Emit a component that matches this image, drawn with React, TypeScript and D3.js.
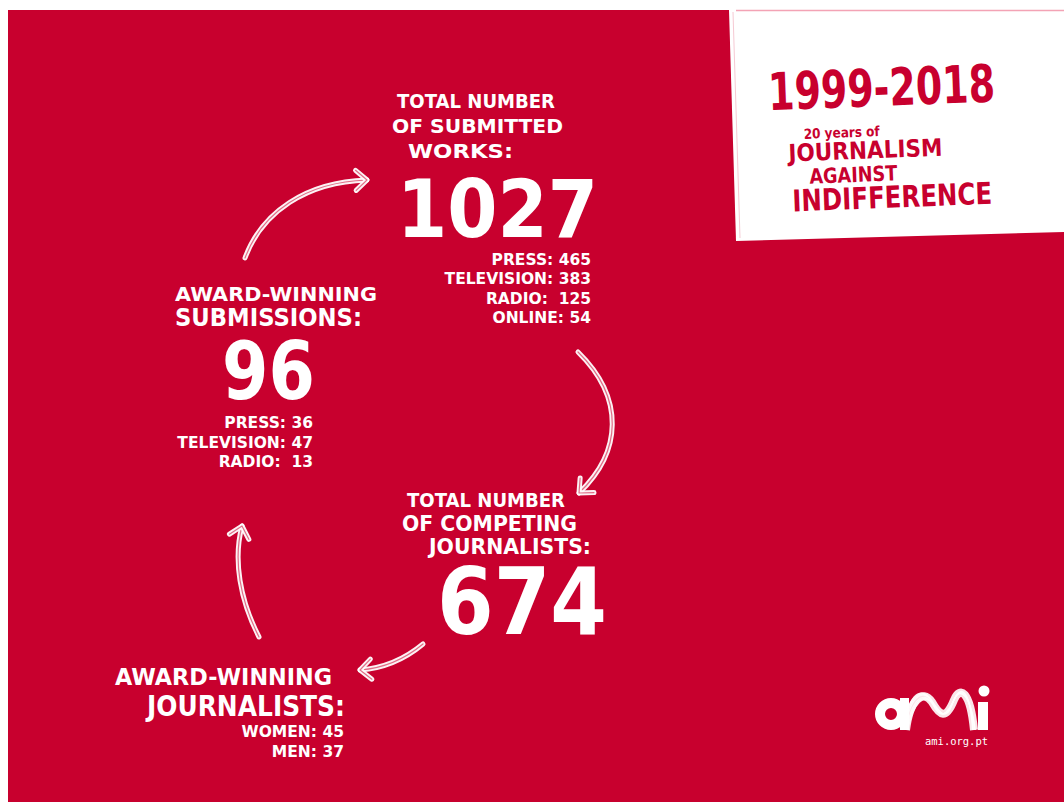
import React from "react";
import * as d3 from "d3";

// ---------- data ----------
const submittedTitle = ["TOTAL NUMBER", "OF SUBMITTED", "WORKS:"];
const submittedTotal = 1027;
const submittedBreakdown = [
  { label: "PRESS", value: "465" },
  { label: "TELEVISION", value: "383" },
  { label: "RADIO", value: " 125" },
  { label: "ONLINE", value: "54" },
];

const competingTitle = ["TOTAL NUMBER", "OF COMPETING", "JOURNALISTS:"];
const competingTotal = 674;

const winningJournalistsTitle = ["AWARD-WINNING", "JOURNALISTS:"];
const winningJournalists = [
  { label: "WOMEN", value: "45" },
  { label: "MEN", value: "37" },
];

const winningSubmissionsTitle = ["AWARD-WINNING", "SUBMISSIONS:"];
const winningSubmissionsTotal = 96;
const winningSubmissions = [
  { label: "PRESS", value: "36" },
  { label: "TELEVISION", value: "47" },
  { label: "RADIO", value: " 13" },
];

const headerYears = "1999-2018";
const headerLines = ["20 years of", "JOURNALISM", "AGAINST", "INDIFFERENCE"];
const siteLabel = "ami.org.pt";

// ---------- styling ----------
const RED = "#c8002e";
const FONT = "'DejaVu Sans', sans-serif";

type P = [number, number];

function arrowPath(pts: P[]) {
  const p = d3.path();
  p.moveTo(pts[0][0], pts[0][1]);
  p.bezierCurveTo(pts[1][0], pts[1][1], pts[2][0], pts[2][1], pts[3][0], pts[3][1]);
  return p.toString();
}

function headPath(pts: P[], len = 15, ang = 42) {
  const [cx, cy] = pts[2];
  const [ex, ey] = pts[3];
  const bx = cx - ex, by = cy - ey;
  const n = Math.hypot(bx, by);
  const ux = bx / n, uy = by / n;
  const a = (ang * Math.PI) / 180;
  const r = (s: number): P => [
    ex + len * (ux * Math.cos(s * a) - uy * Math.sin(s * a)),
    ey + len * (ux * Math.sin(s * a) + uy * Math.cos(s * a)),
  ];
  const p1 = r(1), p2 = r(-1);
  const p = d3.path();
  p.moveTo(p1[0], p1[1]);
  p.lineTo(ex, ey);
  p.lineTo(p2[0], p2[1]);
  return p.toString();
}

const arrows: P[][] = [
  [[245, 258], [262, 212], [306, 182], [367, 180]],
  [[578, 352], [625, 398], [622, 452], [579, 493]],
  [[423, 644], [405, 659], [386, 668], [360, 670]],
  [[259, 637], [240, 600], [233, 560], [242, 526]],
];

function Arrow({ pts }: { pts: P[] }) {
  const d = arrowPath(pts);
  const h = headPath(pts);
  return (
    <g fill="none" strokeLinecap="round" strokeLinejoin="round">
      <path d={d} stroke="#fff" strokeWidth={5} opacity={0.95} />
      <path d={d} stroke={RED} strokeWidth={1.2} opacity={0.55} />
      <path d={h} stroke="#fff" strokeWidth={5} opacity={0.95} />
      <path d={h} stroke={RED} strokeWidth={1.2} opacity={0.55} />
    </g>
  );
}

function T({
  x, y, w, size, children, fill = "#fff", anchor = "start", weight = 700, family = FONT,
}: {
  x: number; y: number; w?: number; size: number; children: React.ReactNode;
  fill?: string; anchor?: string; weight?: number; family?: string;
}) {
  return (
    <text
      x={x}
      y={y}
      fontSize={size}
      fontFamily={family}
      fontWeight={weight}
      fill={fill}
      textAnchor={anchor}
      textLength={w}
      lengthAdjust={w ? "spacingAndGlyphs" : undefined}
      style={{ whiteSpace: "pre" }}
    >
      {children}
    </text>
  );
}

export default function App() {
  // m logo waves
  const mLines = d3.range(7).map((i) => {
    const o = i - 3;
    const p = d3.path();
    p.moveTo(906 + o * 0.6, 730);
    p.bezierCurveTo(910 + o, 700 + o, 922 + o, 688 + o, 932 + o * 0.5, 702 + o * 1.2);
    p.bezierCurveTo(940, 716 + o, 946, 720 - o, 954 + o * 0.5, 700 - o);
    p.bezierCurveTo(960, 686 + o, 970, 690 + o, 974 + o * 0.5, 730);
    return p.toString();
  });

  return (
    <svg
      width={1064}
      height={802}
      style={{ display: "block", position: "absolute", left: 0, top: 0 }}
    >
      <rect x={8} y={10} width={1056} height={792} fill={RED} />

      {/* header card */}
      <path d="M729,10 L1064,10 L1064,232 L736,241 Z" fill="#fff" />
      <line x1={736} y1={10.5} x2={1064} y2={10.5} stroke="#f3a3b5" strokeWidth={1.5} />
      <line x1={733} y1={12} x2={740} y2={238} stroke="#f6c9d3" strokeWidth={1} />
      <g transform="rotate(-2.2 880 140)">
        <T x={770} y={106} w={227} size={52} fill={RED} weight={800}>{headerYears}</T>
        <T x={804} y={136} w={76} size={14} fill={RED}>{headerLines[0]}</T>
        <T x={788} y={158} w={154} size={24} fill={RED}>{headerLines[1]}</T>
        <T x={808} y={181} w={88} size={21} fill={RED}>{headerLines[2]}</T>
        <T x={790} y={208} w={200} size={30} fill={RED}>{headerLines[3]}</T>
      </g>

      {/* arrows */}
      {arrows.map((a, i) => (
        <Arrow key={i} pts={a} />
      ))}

      {/* submitted works */}
      <T x={397} y={108} w={158} size={19}>{submittedTitle[0]}</T>
      <T x={392} y={133} w={171} size={20}>{submittedTitle[1]}</T>
      <T x={408} y={158} w={105} size={20}>{submittedTitle[2]}</T>
      <T x={397} y={237} w={201} size={81}>{String(submittedTotal)}</T>
      {submittedBreakdown.map((d, i) => (
        <T key={d.label} x={591} y={265 + i * 19.4} size={15.5} anchor="end">
          {`${d.label}: ${d.value}`}
        </T>
      ))}

      {/* award-winning submissions */}
      <T x={175} y={301} w={202} size={20}>{winningSubmissionsTitle[0]}</T>
      <T x={175} y={326} w={187} size={25}>{winningSubmissionsTitle[1]}</T>
      <T x={222} y={399} w={93} size={80}>{String(winningSubmissionsTotal)}</T>
      {winningSubmissions.map((d, i) => (
        <T key={d.label} x={313} y={428 + i * 19.5} size={15.5} anchor="end">
          {`${d.label}: ${d.value}`}
        </T>
      ))}

      {/* competing journalists */}
      <T x={407} y={507} w={158} size={19}>{competingTitle[0]}</T>
      <T x={402} y={531} w={175} size={21}>{competingTitle[1]}</T>
      <T x={429} y={554} w={162} size={22}>{competingTitle[2]}</T>
      <T x={437} y={634} w={170} size={93}>{String(competingTotal)}</T>

      {/* award-winning journalists */}
      <T x={115} y={685} w={217} size={23}>{winningJournalistsTitle[0]}</T>
      <T x={147} y={716} w={198} size={28}>{winningJournalistsTitle[1]}</T>
      {winningJournalists.map((d, i) => (
        <T key={d.label} x={344} y={737 + i * 20} size={15.5} anchor="end">
          {`${d.label}: ${d.value}`}
        </T>
      ))}

      {/* ami logo */}
      <g>
        <circle cx={891} cy={714} r={11} fill="none" stroke="#fff" strokeWidth={10} />
        <rect x={900} y={698} width={9} height={32} fill="#fff" />
        {mLines.map((d, i) => (
          <path key={i} d={d} fill="none" stroke="#fff" strokeWidth={i === 3 ? 8 : 1.2} opacity={i === 3 ? 0.9 : 0.8} />
        ))}
        <rect x={978} y={702} width={10} height={28} fill="#fff" />
        <circle cx={984} cy={691} r={5.5} fill="#fff" />
        <T x={925} y={745} w={63} size={11} weight={400} family="'DejaVu Sans Mono', monospace">{siteLabel}</T>
      </g>
    </svg>
  );
}
